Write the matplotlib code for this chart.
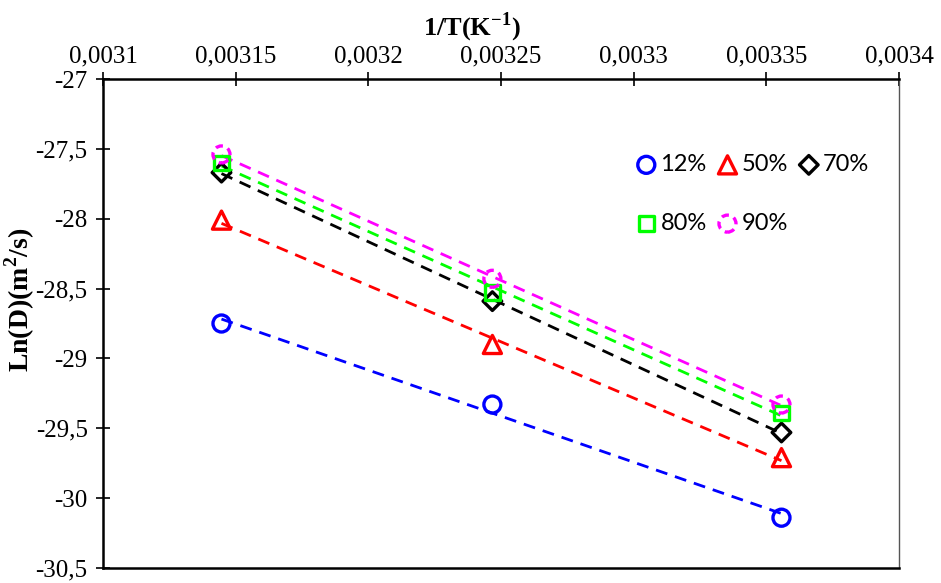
import matplotlib
matplotlib.use("Agg")
import matplotlib.pyplot as plt
import numpy as np
from matplotlib.ticker import FuncFormatter

plt.rcParams["mathtext.fontset"] = "custom"
plt.rcParams["mathtext.rm"] = "Liberation Serif"
plt.rcParams["mathtext.bf"] = "Liberation Serif:bold"

# Data
temps_K = [318, 308, 298]
inv_T = [1.0 / t for t in temps_K]
series_labels = ["12%", "50%", "70%", "80%", "90%"]
ln_d_12 = [-28.75, -29.33, -30.14]
ln_d_50 = [-28.01, -28.90, -29.71]
ln_d_70 = [-27.67, -28.59, -29.53]
ln_d_80 = [-27.60, -28.53, -29.39]
ln_d_90 = [-27.54, -28.43, -29.33]
x_ticks = [0.0031, 0.00315, 0.0032, 0.00325, 0.0033, 0.00335, 0.0034]
y_ticks = [-30.5, -30, -29.5, -29, -28.5, -28, -27.5, -27]

series = [ln_d_12, ln_d_50, ln_d_70, ln_d_80, ln_d_90]
colors = ["#0000FF", "#FF0000", "#000000", "#00FF00", "#FF00FF"]
markers = ["o", "^", "D", "s", "o"]
sizes = [150, 170, 90, 110, 150]
edge_ls = ["-", "-", "-", "-", (0, (2.2, 1.6))]

fig = plt.figure(figsize=(9.41, 5.83), dpi=100)
ax = fig.add_axes([103 / 941, 1 - 568 / 583, (899 - 103) / 941, (568 - 79) / 583])

xa = np.array(inv_T)
handles = []
for vals, c, m, s, ls, lab in zip(series, colors, markers, sizes, edge_ls, series_labels):
    ya = np.array(vals)
    k, b = np.polyfit(xa, ya, 1)
    xl = np.array([xa.min(), xa.max()])
    ax.plot(xl, k * xl + b, linestyle=(0, (4.3, 2.9)), color=c, lw=2.0, zorder=2)
    h = ax.scatter(xa, ya, s=s, marker=m, facecolors="none", edgecolors=c,
                   linewidths=2.4, linestyles=ls, label=lab, zorder=3)
    handles.append(h)

ax.set_xlim(0.0031, 0.0034)
ax.set_ylim(-30.5, -27)
ax.set_xticks(x_ticks)
ax.set_yticks(y_ticks)
fmt = FuncFormatter(lambda v, p: ("%g" % v).replace(".", ","))
ax.xaxis.set_major_formatter(fmt)
ax.yaxis.set_major_formatter(fmt)
ax.xaxis.tick_top()
ax.xaxis.set_label_position("top")

for lab in ax.get_xticklabels() + ax.get_yticklabels():
    lab.set_fontfamily("Liberation Serif")
    lab.set_fontsize(18)
ax.tick_params(axis="both", direction="inout", length=10, width=1.2, colors="black")
ax.tick_params(axis="x", pad=3)
ax.tick_params(axis="y", pad=6)

ax.set_xlabel("1/T(K$^{\\mathbf{-1}}$)", fontfamily="Liberation Serif", fontsize=19,
              fontweight="bold")
ax.xaxis.set_label_coords(0.4636, 1.09)
ax.set_ylabel("Ln(D)(m$^{\\mathbf{2}}$/s)", fontfamily="Liberation Serif", fontsize=20,
              fontweight="bold")
ax.yaxis.set_label_coords(-0.083, 0.548)

for sp in ["top", "left", "bottom"]:
    ax.spines[sp].set_linewidth(1.8)
    ax.spines[sp].set_color("black")
ax.spines["right"].set_linewidth(1.0)
ax.spines["right"].set_color("#555555")

order = [0, 3, 1, 4, 2]
leg = ax.legend([handles[i] for i in order], [series_labels[i] for i in order],
                ncol=3, loc="upper left", bbox_to_anchor=(0.641, 0.89), frameon=False,
                prop={"family": "Lato", "size": 17}, handletextpad=0.1,
                columnspacing=0.38, labelspacing=1.6, handlelength=1.0,
                scatterpoints=1)

fig.savefig("out.png", dpi=100)
